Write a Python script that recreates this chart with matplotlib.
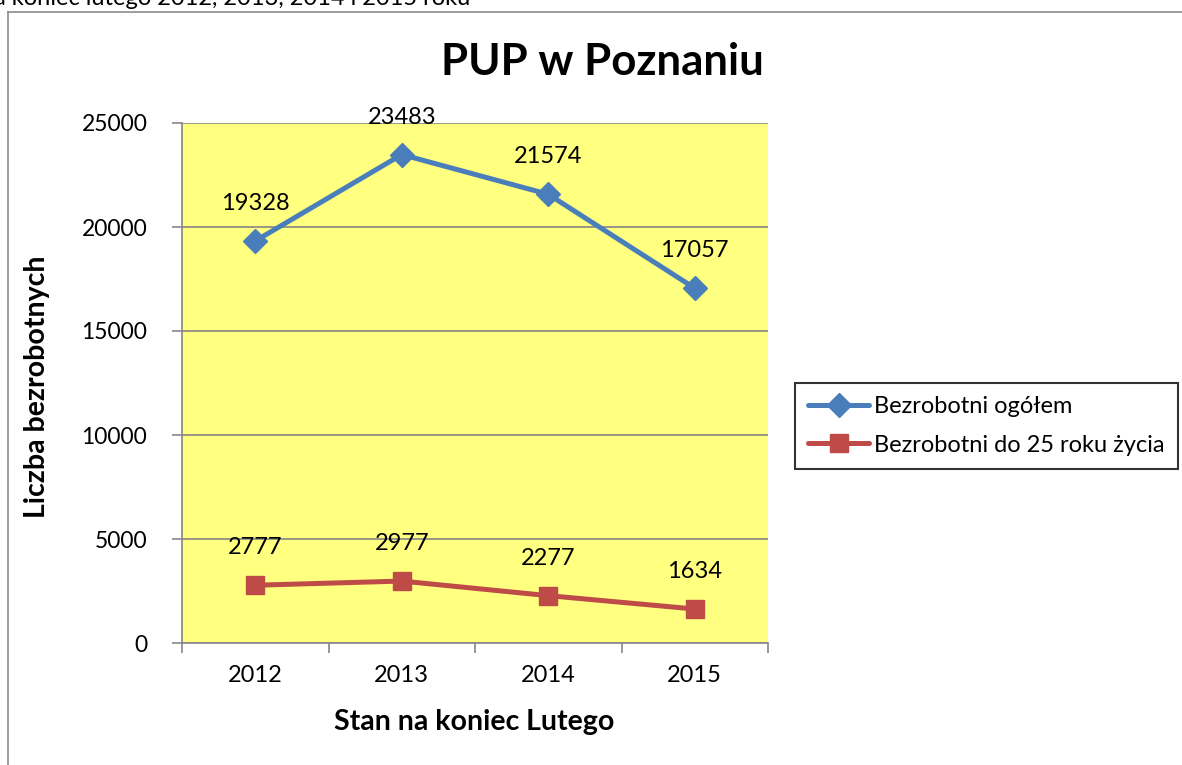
import matplotlib.pyplot as plt
from matplotlib.lines import Line2D

plt.rcParams['font.family'] = ['Lato', 'DejaVu Sans']

years = ['2012', '2013', '2014', '2015']
total = [19328, 23483, 21574, 17057]
young = [2777, 2977, 2277, 1634]
series_names = ['Bezrobotni ogółem', 'Bezrobotni do 25 roku życia']

BLUE = '#4A7EBB'
RED = '#BE4B48'
YELLOW = '#FFFF80'
GRID = '#868686'

W, H = 1182, 765
fig = plt.figure(figsize=(W / 100, H / 100), dpi=100)

# chart area frame (cut off on the right and bottom)
fig.add_artist(Line2D([8 / W, 8 / W], [0, 1 - 12 / H], color='#8C8C8C', lw=1.2))
fig.add_artist(Line2D([8 / W, 1], [1 - 12 / H, 1 - 12 / H], color='#8C8C8C', lw=1.2))

# caption above the chart, cut by the top edge as in the source
fig.text(470 / W, 1 - 5 / H, 'na koniec lutego 2012, 2013, 2014 i 2015 roku',
         ha='right', va='baseline', fontsize=17)

ax = fig.add_axes([182 / W, 1 - 643 / H, (768 - 182) / W, (643 - 123) / H])
ax.set_facecolor(YELLOW)
x = range(len(years))

ax.plot(x, total, color=BLUE, lw=3.6, marker='D', markersize=12, label=series_names[0],
        solid_capstyle='round', zorder=3)
ax.plot(x, young, color=RED, lw=3.6, marker='s', markersize=13, label=series_names[1],
        solid_capstyle='round', zorder=3)

for xi, v in zip(x, total):
    ax.annotate(str(v), (xi, v), xytext=(0, 27), textcoords='offset points',
                ha='center', va='center', fontsize=17, zorder=4)
for xi, v in zip(x, young):
    ax.annotate(str(v), (xi, v), xytext=(0, 27), textcoords='offset points',
                ha='center', va='center', fontsize=17, zorder=4)

ax.set_xlim(-0.5, 3.5)
ax.set_ylim(0, 25000)
ax.set_yticks(range(0, 25001, 5000))
ax.set_xticks(list(x))
ax.set_xticklabels(years)
ax.set_xticks([i - 0.5 for i in range(len(years) + 1)], minor=True)
ax.tick_params(axis='x', which='major', length=0, pad=16, labelsize=17)
ax.tick_params(axis='x', which='minor', length=7, color=GRID, width=1.2)
ax.tick_params(axis='y', length=7, color=GRID, width=1.2, pad=18, labelsize=16.5)

ax.grid(axis='y', color=GRID, lw=1.2)
ax.set_axisbelow(True)
for s in ['top', 'right']:
    ax.spines[s].set_visible(False)
for s in ['left', 'bottom']:
    ax.spines[s].set_color(GRID)
    ax.spines[s].set_linewidth(1.2)

ax.set_ylabel('Liczba bezrobotnych', fontsize=20.5, fontweight='bold')
ax.set_xlabel('Stan na koniec Lutego', fontsize=20.5, fontweight='bold')
ax.yaxis.set_label_coords((37 - 182) / 586, (643 - 387) / 520)
ax.xaxis.set_label_coords((474 - 182) / 586, (643 - 722) / 520)
ax.yaxis.label.set_va('center')
ax.xaxis.label.set_va('center')

fig.text(602 / W, 1 - 62 / H, 'PUP w Poznaniu', ha='center', va='center',
         fontsize=31.5, fontweight='bold')

leg = fig.legend(loc='upper left', bbox_to_anchor=(795 / W, 1 - 383 / H),
                 fontsize=17, frameon=True, fancybox=False, edgecolor='black',
                 handlelength=2.6, borderpad=0.55, labelspacing=0.75, handletextpad=0.2,
                 borderaxespad=0)
leg.get_frame().set_linewidth(1.5)

fig.savefig('out.png', dpi=100)
